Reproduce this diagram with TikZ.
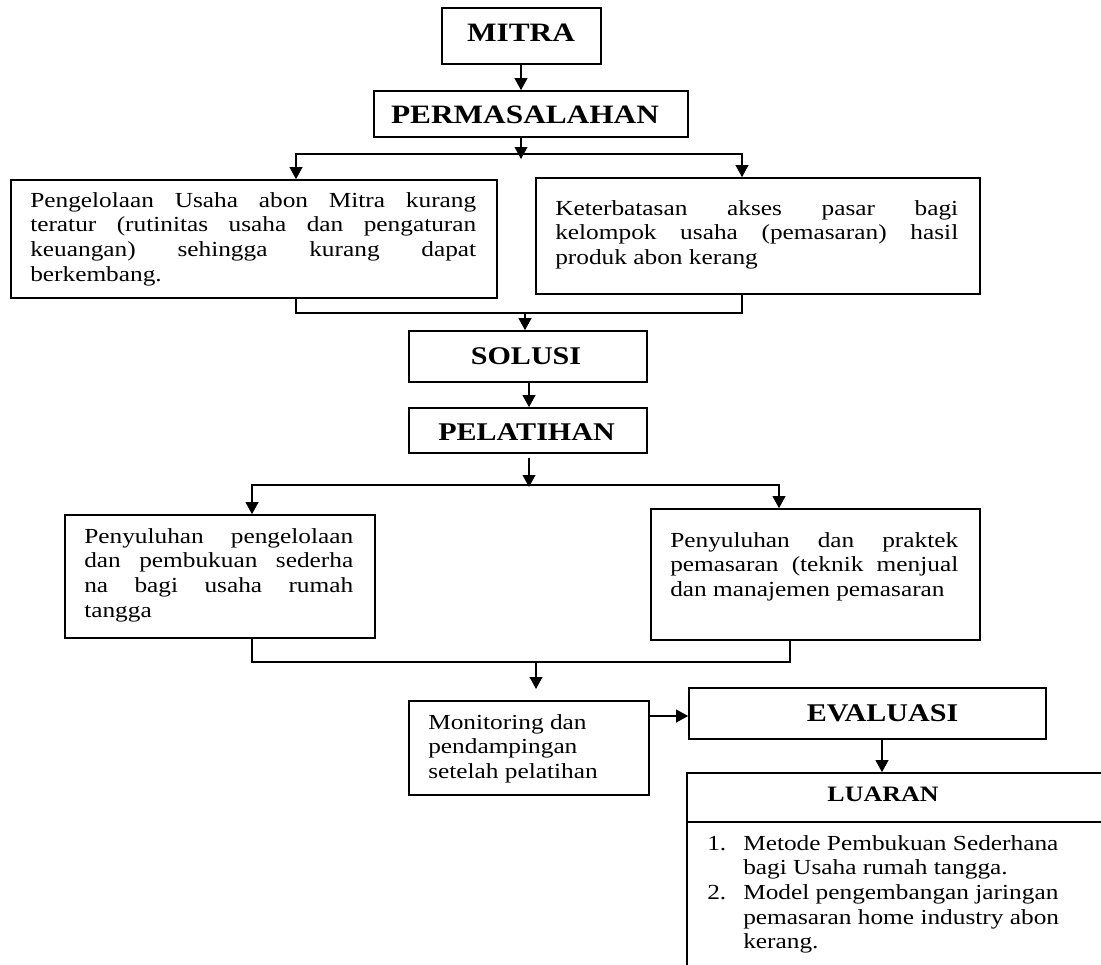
\documentclass[tikz,border=0pt]{standalone}
\usepackage{fontspec}
\setmainfont{Liberation Serif}[FakeStretch=1.18]
\usetikzlibrary{arrows.meta,fit}
\newcommand\bodyfont{\fontsize{16.1pt}{18.5pt}\selectfont}
\newcommand\jl[1]{\makebox[\linewidth][s]{#1}\\}
\begin{document}
\begin{tikzpicture}[x=0.75pt,y=-0.75pt,
  box/.style={draw, line width=1.2pt, inner sep=0pt},
  ln/.style={line width=1.2pt},
  arr/.style={line width=1.2pt,-{Triangle[length=9pt,width=9.5pt]}},
  ttl/.style={inner sep=0pt, font=\bfseries\fontsize{19.9pt}{22pt}\selectfont},
  ttlb/.style={inner sep=0pt, font=\bfseries\fontsize{19.1pt}{22pt}\selectfont},
  ttlc/.style={inner sep=0pt, font=\bfseries\fontsize{16.5pt}{19pt}\selectfont},
  txt/.style={anchor=base west, inner sep=0pt, font=\bodyfont}]
\useasboundingbox (0,0) rectangle (1101,965);
\fill[white] (0,0) rectangle (1101,965);
\clip (0,0) rectangle (1101,965);

% boxes
\node[box, fit={(442,8) (601,64)}] (mitra) {};
\node[box, fit={(374,91) (688,137)}] (perm) {};
\node[box, fit={(11,180) (497,298)}] (lb) {};
\node[box, fit={(536,178) (980,294)}] (rb) {};
\node[box, fit={(409,331) (647,382)}] (sol) {};
\node[box, fit={(409,408) (647,453)}] (pel) {};
\node[box, fit={(65,515) (375,638)}] (llb) {};
\node[box, fit={(651,509) (980,640)}] (rlb) {};
\node[box, fit={(409,701) (649,795)}] (mon) {};
\node[box, fit={(689,688) (1046,739)}] (eva) {};
\node[box, fit={(687,773) (1130,1000)}] (lua) {};
\coordinate (div) at (687,822);
\draw[ln] (div) -- (div -| lua.east);

% titles
\node[ttl] (tmitra) at (521,33) {MITRA};
\node[ttl] (tperm) at (525,115) {PERMASALAHAN};
\node[ttlb] (tsol) at (526,356.5) {SOLUSI};
\node[ttlb] (tpel) at (526.5,432) {PELATIHAN};
\node[ttlb] (teva) at (882.5,713) {EVALUASI};
\node[ttlc] (tlua) at (883,794.5) {LUARAN};

% texts
\node[txt] (t1) at (30,207) {\parbox[t]{334.5pt}{\bodyfont
  \jl{Pengelolaan Usaha abon Mitra kurang}%
  \jl{teratur (rutinitas usaha dan pengaturan}%
  \jl{keuangan) sehingga kurang dapat}%
  berkembang.}};
\node[txt] (t2) at (555,215) {\parbox[t]{302.25pt}{\bodyfont
  \jl{Keterbatasan akses pasar bagi}%
  \jl{kelompok usaha (pemasaran) hasil}%
  produk abon kerang}};
\node[txt] (t3) at (84,543) {\parbox[t]{201.75pt}{\bodyfont
  \jl{Penyuluhan pengelolaan}%
  \jl{dan pembukuan sederha}%
  \jl{na bagi usaha rumah}%
  tangga}};
\node[txt] (t4) at (670,547) {\parbox[t]{216pt}{\bodyfont
  \jl{Penyuluhan dan praktek}%
  \jl{pemasaran (teknik menjual}%
  dan manajemen pemasaran}};
\node[txt] (t5) at (428,729) {\parbox[t]{175pt}{\bodyfont
  Monitoring dan\\pendampingan\\setelah pelatihan}};
\node[txt] (t6) at (707,850) {\parbox[t]{290pt}{\bodyfont
  \makebox[27pt][l]{1.}Metode Pembukuan Sederhana\\
  \hspace*{27pt}bagi Usaha rumah tangga.\\
  \makebox[27pt][l]{2.}Model pengembangan jaringan\\
  \hspace*{27pt}pemasaran home industry abon\\
  \hspace*{27pt}kerang.}};

% connectors
\coordinate (x1) at (521,159);
\draw[arr] (mitra.south -| x1) -- (perm.north -| x1);
\draw[arr] (perm.south -| x1) -- (x1);
\coordinate (h1L) at (296,154);
\coordinate (h1R) at (742,154);
\draw[arr] (h1R) -- (h1L) -- (h1L |- lb.north);
\draw[arr] (h1L) -- (h1R) -- (h1R |- rb.north);
\coordinate (m1L) at (296,313);
\coordinate (m1R) at (742,313);
\draw[ln] (lb.south -| m1L) -- (m1L) -- (m1R) -- (rb.south -| m1R);
\coordinate (m1) at (525,313);
\draw[arr] (m1) -- (sol.north -| m1);
\coordinate (x2) at (529,395);
\draw[arr] (sol.south -| x2) -- (pel.north -| x2);
\coordinate (j2) at (529,487);
\draw[arr, shorten <=3pt] (pel.south -| j2) -- (j2);
\coordinate (h2L) at (252,485);
\coordinate (h2R) at (779,485);
\draw[arr] (h2R) -- (h2L) -- (h2L |- llb.north);
\draw[arr] (h2L) -- (h2R) -- (h2R |- rlb.north);
\coordinate (m2L) at (252,662);
\coordinate (m2R) at (790,662);
\draw[ln] (llb.south -| m2L) -- (m2L) -- (m2R) -- (rlb.south -| m2R);
\coordinate (m2) at (536,662);
\coordinate (m2t) at (536,689);
\draw[arr] (m2) -- (m2t);
\coordinate (a3) at (669,716);
\draw[arr] (mon.east |- a3) -- (eva.west |- a3);
\coordinate (x4) at (882,750);
\draw[arr] (eva.south -| x4) -- (lua.north -| x4);
\end{tikzpicture}
\end{document}
